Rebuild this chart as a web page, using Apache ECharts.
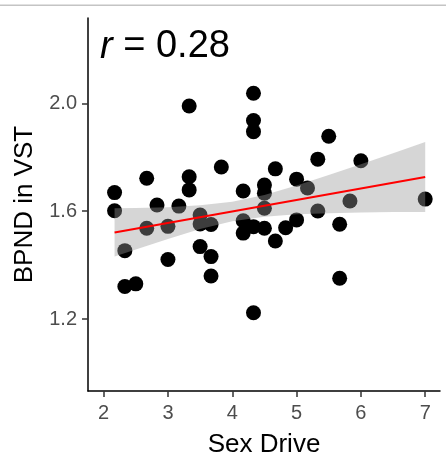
<!DOCTYPE html>
<html>
<head>
<meta charset="utf-8">
<script src="https://cdn.jsdelivr.net/npm/echarts@6/dist/echarts.min.js"></script>
<style>
  html, body { margin: 0; padding: 0; background: #fff; }
  #chart { width: 446px; height: 463px; }
</style>
</head>
<body>
<div id="chart"></div>
<script>
// Sex drive score vs. BPND in the ventral striatum, one point per subject
const sexDrive = [
  2.17, 2.17, 2.33, 2.33, 2.50, 2.67, 2.67, 2.83, 3.00, 3.00,
  3.17, 3.33, 3.33, 3.33, 3.50, 3.50, 3.50, 3.67, 3.67, 3.67,
  3.83, 4.17, 4.17, 4.17, 4.33, 4.33, 4.33, 4.33, 4.33, 4.50,
  4.50, 4.50, 4.50, 4.67, 4.67, 4.83, 5.00, 5.00, 5.17, 5.33,
  5.33, 5.50, 5.67, 5.67, 5.83, 6.00, 7.00
];
const bpnd = [
  1.669, 1.602, 1.454, 1.321, 1.331, 1.722, 1.537, 1.623, 1.544, 1.421,
  1.619, 1.990, 1.728, 1.679, 1.586, 1.553, 1.469, 1.551, 1.432, 1.360,
  1.764, 1.675, 1.565, 1.519, 2.037, 1.936, 1.895, 1.543, 1.224, 1.697,
  1.667, 1.611, 1.537, 1.757, 1.490, 1.539, 1.719, 1.568, 1.686, 1.793,
  1.601, 1.878, 1.552, 1.352, 1.638, 1.787, 1.645
];

// Linear fit and its 95% confidence band
const fitX = [2.17, 7.00];
const fitY = [1.521, 1.727];
const bandX    = [2.17, 2.50, 3.00, 3.50, 4.00, 4.50, 5.00, 5.50, 6.00, 6.50, 7.00];
const bandLow  = [1.432, 1.458, 1.497, 1.534, 1.563, 1.580, 1.589, 1.593, 1.595, 1.597, 1.597];
const bandHigh = [1.611, 1.612, 1.615, 1.622, 1.635, 1.660, 1.695, 1.734, 1.774, 1.815, 1.857];

const xTicks = [2, 3, 4, 5, 6, 7];
const yTicks = [1.2, 1.6, 2.0];
const corrLabel = '0.28';

const FONT = '"Liberation Sans", Arial, Helvetica, sans-serif';

const points = sexDrive.map((x, i) => [x, bpnd[i]]);
const fitLine = fitX.map((x, i) => [x, fitY[i]]);

const chart = echarts.init(document.getElementById('chart'), null, { renderer: 'canvas' });

chart.setOption({
  animation: false,
  backgroundColor: '#ffffff',
  grid: { left: 88, right: 6, top: 18, bottom: 72 },
  xAxis: {
    type: 'value',
    min: 1.757,
    max: 7.23,
    name: 'Sex Drive',
    nameLocation: 'middle',
    nameGap: 41,
    nameTextStyle: { fontFamily: FONT, fontSize: 26, color: '#000' },
    axisLine: { show: true, onZero: false, lineStyle: { color: '#000', width: 1.5 } },
    axisTick: { show: true, customValues: xTicks, length: 6, lineStyle: { color: '#333', width: 1.5 } },
    axisLabel: {
      customValues: xTicks,
      formatter: v => String(v),
      fontFamily: FONT, fontSize: 20, color: '#4d4d4d', margin: 12
    },
    splitLine: { show: false }
  },
  yAxis: {
    type: 'value',
    min: 0.934,
    max: 2.316,
    name: 'BPND in VST',
    nameLocation: 'middle',
    nameRotate: 90,
    nameGap: 44,
    nameTextStyle: { fontFamily: FONT, fontSize: 26, color: '#000' },
    axisLine: { show: true, onZero: false, lineStyle: { color: '#000', width: 1.5 } },
    axisTick: { show: true, customValues: yTicks, length: 6, lineStyle: { color: '#333', width: 1.5 } },
    axisLabel: {
      customValues: yTicks,
      formatter: v => v.toFixed(1),
      fontFamily: FONT, fontSize: 20, color: '#4d4d4d', margin: 11
    },
    splitLine: { show: false }
  },
  graphic: [
    {
      type: 'rect',
      shape: { x: 0, y: 4.5, width: 446, height: 1.5 },
      style: { fill: '#c4c4c4' },
      silent: true
    },
    {
      type: 'text',
      x: 100,
      y: 47,
      style: {
        text: '{i|r} = ' + corrLabel,
        fontFamily: FONT,
        fontSize: 38,
        fill: '#000',
        verticalAlign: 'middle',
        align: 'left',
        rich: {
          i: { fontStyle: 'italic', fontFamily: FONT, fontSize: 38, fill: '#000' }
        }
      },
      z: 100
    }
  ],
  series: [
    {
      type: 'scatter',
      data: points,
      symbol: 'circle',
      symbolSize: 15,
      itemStyle: { color: '#000', opacity: 1 },
      emphasis: { disabled: true },
      z: 2
    },
    {
      type: 'custom',
      z: 3,
      silent: true,
      data: [0],
      renderItem: function (params, api) {
        const pts = [];
        for (let i = 0; i < bandX.length; i++) pts.push(api.coord([bandX[i], bandHigh[i]]));
        for (let i = bandX.length - 1; i >= 0; i--) pts.push(api.coord([bandX[i], bandLow[i]]));
        return {
          type: 'polygon',
          shape: { points: pts, smooth: 0 },
          style: { fill: 'rgba(153,153,153,0.4)' }
        };
      }
    },
    {
      type: 'line',
      data: fitLine,
      showSymbol: false,
      lineStyle: { color: '#ff0000', width: 2 },
      z: 4
    }
  ]
});
</script>
</body>
</html>
